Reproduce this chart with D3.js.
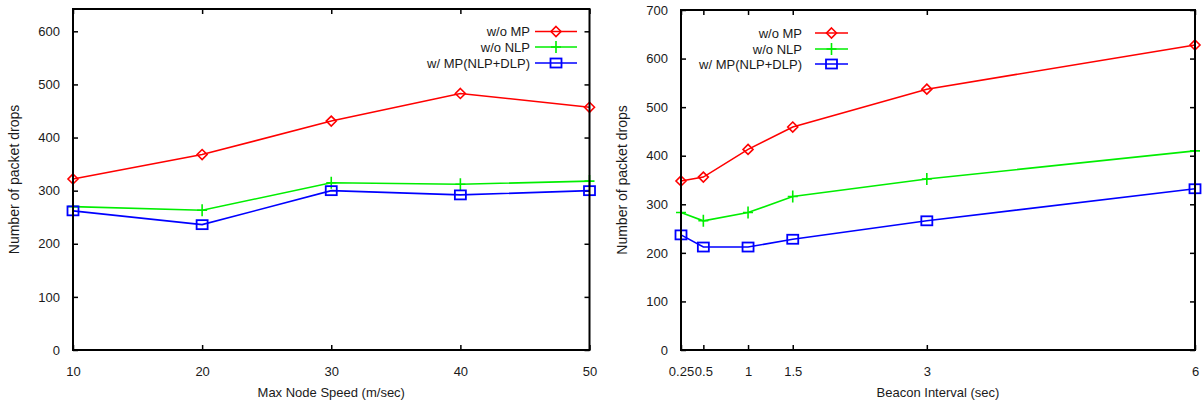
<!DOCTYPE html>
<html><head><meta charset="utf-8">
<script src="https://cdn.jsdelivr.net/npm/d3@7"></script>
<style>
body{margin:0;background:#fff}
text{font-family:"Liberation Sans",Arial,Helvetica,sans-serif;font-size:13px;fill:#1a1a1a}
</style>
</head><body>
<svg id="c" width="1202" height="405"></svg>
<script>
// ---- data ----
const seriesNames = ["w/o MP", "w/o NLP", "w/ MP(NLP+DLP)"];
const seriesColors = ["#ff0000", "#00ee00", "#0000ff"];
const seriesMarkers = ["diamond", "plus", "square"];

const speedCategories = [10, 20, 30, 40, 50];
const speedWoMP  = [322, 368, 431, 483, 457];
const speedWoNLP = [270, 263, 315, 312, 318];
const speedWMP   = [262, 236, 300, 292, 300];
const speedXTickLabels = ["10", "20", "30", "40", "50"];
const speedYTicks = [0, 100, 200, 300, 400, 500, 600];

const beaconCategories = [0.25, 0.5, 1, 1.5, 3, 6];
const beaconWoMP  = [348, 356, 413, 459, 537, 628];
const beaconWoNLP = [283, 266, 283, 316, 352, 410];
const beaconWMP   = [237, 212, 212, 228, 266, 332];
const beaconXTickLabels = ["0.25", "0.5", "1", "1.5", "3", "6"];
const beaconYTicks = [0, 100, 200, 300, 400, 500, 600, 700];

// ---- drawing ----
const svg = d3.select("#c");

function marker(g, type, x, y, color) {
  if (type === "diamond") {
    g.append("path").attr("d", `M${x},${y-5}L${x+5},${y}L${x},${y+5}L${x-5},${y}Z`)
      .attr("fill", "none").attr("stroke", color).attr("stroke-width", 1.6);
  } else if (type === "square") {
    g.append("rect").attr("x", x-5.5).attr("y", y-4.5).attr("width", 11).attr("height", 9)
      .attr("fill", "none").attr("stroke", color).attr("stroke-width", 1.8);
  } else {
    g.append("path").attr("d", `M${x-5},${y}H${x+5}M${x},${y-6}V${y+6}`)
      .attr("stroke", color).attr("stroke-width", 1.6);
  }
}

function panel(cfg) {
  const g = svg.append("g");
  const x = d3.scaleLinear().domain(cfg.xDomain).range([cfg.left, cfg.right]);
  const y = d3.scaleLinear().domain(cfg.yDomain).range([cfg.bottom, cfg.top]);

  const axL = d3.axisLeft(y).tickValues(cfg.yTicks).tickSize(-5).tickPadding(13);
  const axR = d3.axisRight(y).tickValues(cfg.yTicks).tickSize(-5).tickFormat("");
  const axB = d3.axisBottom(x).tickValues(cfg.xCats).tickSize(-5).tickPadding(17)
      .tickFormat((d, i) => cfg.xLabels[i]);
  const axT = d3.axisTop(x).tickValues(cfg.xCats).tickSize(-5).tickFormat("");

  const style = sel => {
    sel.select(".domain").remove();
    sel.selectAll(".tick line").attr("stroke", "#000").attr("stroke-width", 1.5);
    sel.selectAll(".tick text").attr("font-size", 13).attr("fill", "#1a1a1a")
      .attr("font-family", '"Liberation Sans",Arial,sans-serif');
  };
  g.append("g").attr("transform", `translate(${cfg.left},0)`).call(axL).call(style);
  g.append("g").attr("transform", `translate(${cfg.right},0)`).call(axR).call(style);
  g.append("g").attr("transform", `translate(0,${cfg.bottom})`).call(axB).call(style);
  g.append("g").attr("transform", `translate(0,${cfg.top})`).call(axT).call(style);

  cfg.series.forEach((vals, si) => {
    const pts = cfg.xCats.map((c, i) => [x(c), y(vals[i])]);
    g.append("path").attr("d", d3.line()(pts)).attr("fill", "none")
      .attr("stroke", seriesColors[si]).attr("stroke-width", 1.6);
    pts.forEach(p => marker(g, seriesMarkers[si], p[0], p[1], seriesColors[si]));
  });

  g.append("rect").attr("x", cfg.left).attr("y", cfg.top)
    .attr("width", cfg.right - cfg.left).attr("height", cfg.bottom - cfg.top)
    .attr("fill", "none").attr("stroke", "#000").attr("stroke-width", 2);

  seriesNames.forEach((n, i) => {
    const ly = cfg.legY[i];
    g.append("text").attr("x", cfg.legTextX).attr("y", ly).attr("dy", "0.35em")
      .attr("text-anchor", "end").text(n);
    g.append("line").attr("x1", cfg.legLine[0]).attr("x2", cfg.legLine[1])
      .attr("y1", ly).attr("y2", ly).attr("stroke", seriesColors[i]).attr("stroke-width", 1.6);
    marker(g, seriesMarkers[i], (cfg.legLine[0] + cfg.legLine[1]) / 2, ly, seriesColors[i]);
  });

  g.append("text").attr("x", (cfg.left + cfg.right) / 2).attr("y", 397)
    .attr("text-anchor", "middle").text(cfg.xTitle);
  g.append("text").attr("transform", `translate(${cfg.yTitleX},${(cfg.top + cfg.bottom) / 2}) rotate(-90)`)
    .attr("text-anchor", "middle").style("font-size", "14px").text("Number of packet drops");
}

panel({
  left: 73, right: 589.5, top: 9, bottom: 350,
  xDomain: [10, 50], yDomain: [0, 642],
  xCats: speedCategories, xLabels: speedXTickLabels, yTicks: speedYTicks,
  series: [speedWoMP, speedWoNLP, speedWMP],
  legTextX: 530, legLine: [535, 577], legY: [31.5, 47, 63],
  xTitle: "Max Node Speed (m/sec)", yTitleX: 19
});

panel({
  left: 681, right: 1195, top: 10, bottom: 350,
  xDomain: [0.25, 6], yDomain: [0, 700],
  xCats: beaconCategories, xLabels: beaconXTickLabels, yTicks: beaconYTicks,
  series: [beaconWoMP, beaconWoNLP, beaconWMP],
  legTextX: 802, legLine: [815, 848], legY: [33, 49, 64],
  xTitle: "Beacon Interval (sec)", yTitleX: 627
});
</script>
</body></html>
